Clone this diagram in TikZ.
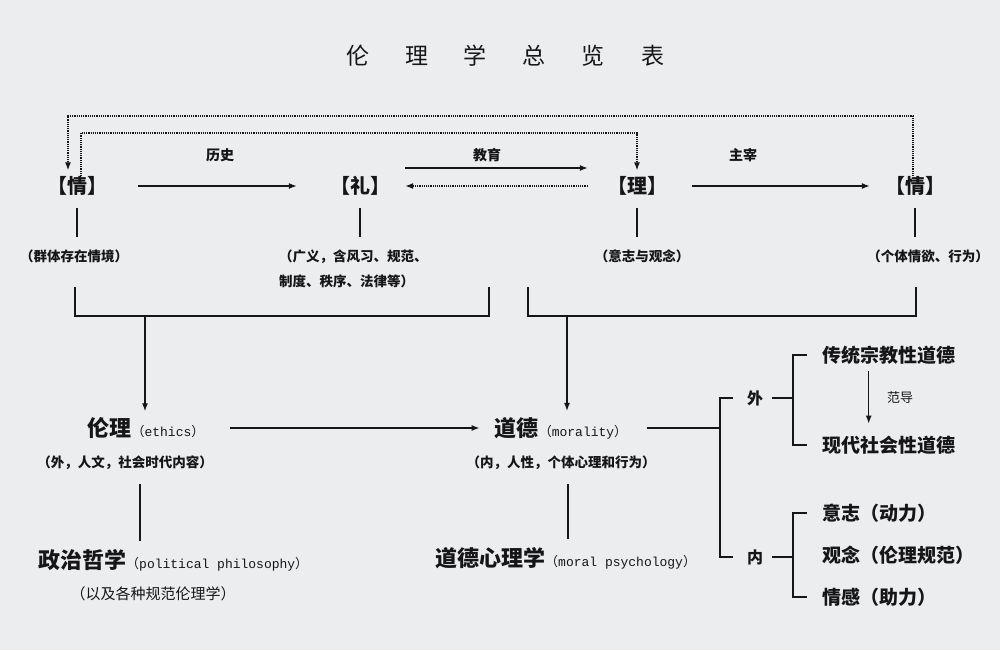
\documentclass[tikz,border=0pt]{standalone}
\usepackage{fontspec}
\setmainfont{Noto Sans CJK SC}
\newfontfamily\monoFont{Liberation Mono}
\usetikzlibrary{positioning,arrows.meta}
\definecolor{paperColor}{RGB}{236,237,239}
\definecolor{inkColor}{RGB}{22,22,24}
\tikzstyle{chart} = [x = 1pt, y = -1pt, every node/.style={inner sep=0pt, text=inkColor}]
\tikzstyle{titleText} = [font=\fontsize{23}{26}\selectfont]
\tikzstyle{keyNode} = [font=\fontsize{20}{22}\selectfont\bfseries]
\tikzstyle{arrowLabel} = [font=\fontsize{14}{16}\selectfont\bfseries]
\tikzstyle{noteText} = [font=\fontsize{13.5}{25}\selectfont\bfseries, align=center]
\tikzstyle{plainNote} = [font=\fontsize{15}{18}\selectfont]
\tikzstyle{branchText} = [font=\fontsize{19}{22}\selectfont\bfseries, anchor=west]
\tikzstyle{sideText} = [font=\fontsize{16}{18}\selectfont\bfseries]
\tikzstyle{flowArrow} = [draw=inkColor, line width=1.3pt, -{Latex[length=8pt,width=6pt]}]
\tikzstyle{dotArrow} = [draw=inkColor, line width=1.2pt, densely dotted, -{Latex[length=8pt,width=6pt]}]
\tikzstyle{linkLine} = [draw=inkColor, line width=1.2pt]
\newcommand{\gap}{\hspace{36pt}}
\newcommand{\termText}[2]{{\fontsize{22}{26}\selectfont\bfseries #1}{\fontsize{13}{16}\selectfont （{\monoFont #2}）}}

\begin{document}
\begin{tikzpicture}[chart]
  \fill[paperColor] (0,0) rectangle (1000,650);
  \useasboundingbox (0,0) rectangle (1000,650);

  \node[titleText] (title) at (505,56) {伦\gap 理\gap 学\gap 总\gap 览\gap 表};

  % top row
  \node[keyNode] (qingL) at (77,186) {【情】};
  \node[keyNode] (liRite) at (360,186) {【礼】};
  \node[keyNode] (liReason) at (637,186) {【理】};
  \node[keyNode] (qingR) at (915,186) {【情】};
  \node[arrowLabel] (histLabel) at (220,155) {历史};
  \node[arrowLabel] (eduLabel) at (487,155) {教育};
  \node[arrowLabel] (ruleLabel) at (743,155) {主宰};

  \draw[flowArrow, shorten <=31pt, shorten >=33pt] (qingL) -- (liRite);
  \draw[flowArrow, shorten <=15pt, shorten >=19pt] ([yshift=18pt]liRite.east) -- ([yshift=18pt]liReason.west);
  \draw[dotArrow, shorten <=19pt, shorten >=15pt] (liReason.west) -- (liRite.east);
  \draw[flowArrow, shorten <=25pt, shorten >=15pt] (liReason) -- (qingR);

  % dotted loops
  \coordinate (outerTop) at (0,116);
  \coordinate (innerTop) at (0,133);
  \draw[dotArrow, shorten >=6pt] ([xshift=-2pt]qingR.north) -- ([xshift=-2pt]qingR.north |- outerTop)
    -- ([xshift=-9pt]qingL.north |- outerTop) -- ([xshift=-9pt]qingL.north);
  \draw[dotArrow, shorten >=6pt] ([xshift=4pt]qingL.north) -- ([xshift=4pt]qingL.north |- innerTop)
    -- (liReason.north |- innerTop) -- (liReason.north);

  % notes under the top row
  \node[noteText] (noteQingL) at (74,256) {（群体存在情境）};
  \node[noteText, align=left, anchor=west] (noteLiRite) at (279,268.5) {（广义，含风习、规范、\\制度、秩序、法律等）};
  \node[noteText] (noteLiReason) at (642,256) {（意志与观念）};
  \node[noteText] (noteQingR) at (928,256) {（个体情欲、行为）};
  \draw[linkLine, shorten <=12pt, shorten >=12pt] (qingL.south) -- (qingL.south |- noteQingL.north);
  \draw[linkLine, shorten <=12pt, shorten >=12pt] (liRite.south) -- (liRite.south |- noteLiRite.north);
  \draw[linkLine, shorten <=12pt, shorten >=12pt] (liReason.south) -- (liReason.south |- noteLiReason.north);
  \draw[linkLine, shorten <=12pt, shorten >=12pt] (qingR.south) -- (qingR.south |- noteQingR.north);

  % brackets
  \coordinate (ethicsTopL) at (75,287);
  \coordinate (ethicsTopR) at (489,287);
  \coordinate (moralTopL) at (528,287);
  \coordinate (moralTopR) at (916,287);
  \coordinate (ethicsJoin) at (145,316);
  \coordinate (moralJoin) at (567,316);
  \draw[linkLine] (ethicsTopL) -- ++(0,29) -| (ethicsTopR);
  \draw[linkLine] (moralTopL) -- ++(0,29) -| (moralTopR);

  % middle row
  \node (ethics) at (146,428) {\termText{伦理}{ethics}};
  \node (moral) at (561,428) {\termText{道德}{morality}};
  \draw[flowArrow, shorten >=6pt] (ethicsJoin) -- (ethicsJoin |- ethics.north);
  \draw[flowArrow, shorten >=6pt] (moralJoin) -- (moralJoin |- moral.north);
  \draw[flowArrow, shorten <=25pt, shorten >=15pt] (ethics) -- (moral);

  \node[noteText] (ethicsNote) at (125,463) {（外，人文，社会时代内容）};
  \node[noteText] (moralNote) at (561,463) {（内，人性，个体心理和行为）};

  \node[anchor=west] (polPhil) at (38,560) {\termText{政治哲学}{political philosophy}};
  \node[plainNote] (polNote) at (153,594) {（以及各种规范伦理学）};
  \node[anchor=west] (moralPsych) at (435,558) {\termText{道德心理学}{moral psychology}};
  \draw[linkLine, shorten <=14pt, shorten >=8pt] ([xshift=15pt]ethicsNote.south) -- ([xshift=15pt]ethicsNote.south |- polPhil.north);
  \draw[linkLine, shorten <=14pt, shorten >=8pt] ([xshift=7pt]moralNote.south) -- ([xshift=7pt]moralNote.south |- moralPsych.north);

  % right branches
  \node[sideText] (wai) at (755,398) {外};
  \node[sideText] (nei) at (755,557) {内};
  \coordinate (branchJoin) at (720,428);
  \draw[linkLine, shorten <=20pt] (moral.east) -- (branchJoin);
  \draw[linkLine] ([xshift=-14pt]wai.west) -| (branchJoin) |- ([xshift=-14pt]nei.west);

  \node[branchText] (tradMoral) at (822,355) {传统宗教性道德};
  \node[branchText] (modernMoral) at (822,445) {现代社会性道德};
  \node[plainNote, font=\fontsize{13}{15}\selectfont] (guideLabel) at (900,398) {范导};
  \draw[linkLine] ([xshift=9pt]wai.east) -- ([xshift=30pt]wai.east);
  \draw[linkLine] ([xshift=-15pt]tradMoral.west) -- ([xshift=-29pt]tradMoral.west) |- ([xshift=-15pt]modernMoral.west);
  \draw[flowArrow, shorten <=7pt, shorten >=12pt] ([xshift=-20pt]tradMoral.south) -- ([xshift=-20pt]tradMoral.south |- modernMoral.north);

  \node[branchText] (willNode) at (822,513) {意志（动力）};
  \node[branchText] (ideaNode) at (822,555) {观念（伦理规范）};
  \node[branchText] (feelNode) at (822,597) {情感（助力）};
  \draw[linkLine] ([xshift=9pt]nei.east) -- ([xshift=30pt]nei.east);
  \draw[linkLine] ([xshift=-15pt]willNode.west) -- ([xshift=-29pt]willNode.west) |- ([xshift=-15pt]feelNode.west);
\end{tikzpicture}
\end{document}
